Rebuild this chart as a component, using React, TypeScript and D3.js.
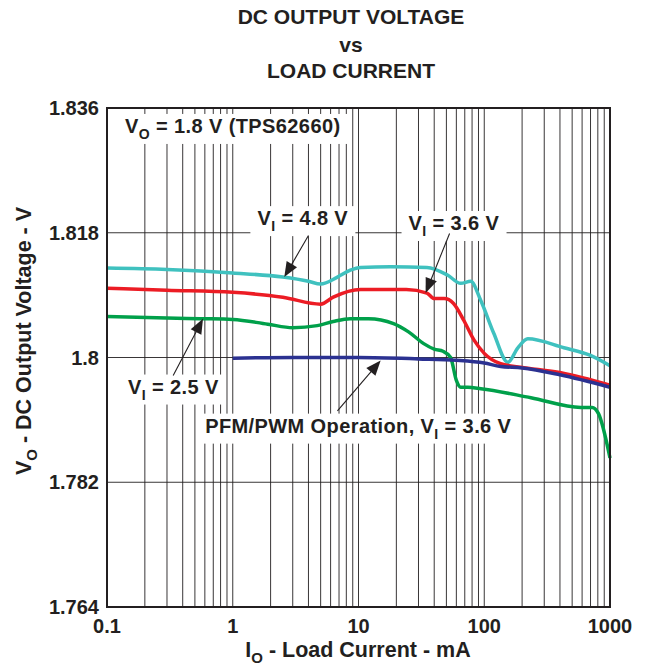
import React, { useLayoutEffect, useRef, useState } from 'react';
import * as d3 from 'd3';

// load current (mA) vs output voltage (V)
const curveVI48: [number, number][] = [
  [0.1, 1.8129], [0.3, 1.8127], [1, 1.8122], [2.5, 1.8116], [4, 1.811], [5, 1.8106],
  [6.8, 1.8116], [8.6, 1.8126], [10.4, 1.813], [18, 1.8131], [35, 1.813], [51, 1.8119],
  [65, 1.8107], [78, 1.811], [94, 1.8082], [119, 1.8035], [154, 1.7993], [185, 1.8014],
  [222, 1.8027], [430, 1.8014], [700, 1.8003], [1000, 1.7988],
];
const curveVI36: [number, number][] = [
  [0.1, 1.81], [0.3, 1.8097], [1, 1.8094], [2.5, 1.8087], [5, 1.8077], [6.3, 1.8087],
  [10.4, 1.8098], [24, 1.8098], [35, 1.8093], [40, 1.8085], [48, 1.8085], [57, 1.8078],
  [69, 1.8053], [83, 1.8025], [100, 1.8006], [135, 1.7991], [195, 1.7986], [407, 1.7978],
  [1000, 1.796],
];
const curveVI25: [number, number][] = [
  [0.1, 1.8059], [0.55, 1.8056], [1, 1.8055], [1.9, 1.8048], [3, 1.8043], [4.7, 1.8046],
  [6.3, 1.8052], [8.6, 1.8056], [12, 1.8056], [19, 1.8049], [25, 1.8037], [33, 1.802],
  [40, 1.8012], [47, 1.8009], [54, 1.8], [60, 1.7967], [65, 1.7957], [74, 1.7957],
  [94, 1.7955], [235, 1.7942], [587, 1.7928], [720, 1.7928], [810, 1.7919], [1000, 1.7855],
];
const curvePfm: [number, number][] = [
  [1, 1.7999], [3, 1.8], [10, 1.8], [30, 1.7998], [60, 1.7996], [100, 1.7992],
  [135, 1.7987], [200, 1.7985], [400, 1.7975], [1000, 1.7957],
];

const xTicks = [0.1, 1, 10, 100, 1000];
const yTicks = [1.764, 1.782, 1.8, 1.818, 1.836];
const yGrid = [1.782, 1.8, 1.818];

const series = [
  { name: 'VI = 4.8 V', data: curveVI48, color: '#3fc1bf' },
  { name: 'VI = 3.6 V', data: curveVI36, color: '#ec1c24' },
  { name: 'VI = 2.5 V', data: curveVI25, color: '#00a04a' },
  { name: 'PFM/PWM', data: curvePfm, color: '#2b3191' },
];

// text = [main, subscript, rest]; at = text start in data units; tip/tail = arrow ends
const notes = [
  { text: ['V', 'O', ' = 1.8 V (TPS62660)'], at: [0.139, 1.8324], tip: null, tail: null },
  { text: ['V', 'I', ' = 4.8 V'], at: [1.57, 1.8191], tip: [2.57, 1.8116], tail: [4.0, 1.8176] },
  { text: ['V', 'I', ' = 3.6 V'], at: [25, 1.8184], tip: [34.2, 1.8093], tail: [53, 1.8179] },
  { text: ['V', 'I', ' = 2.5 V'], at: [0.147, 1.7948], tip: [0.58, 1.8056], tail: [0.336, 1.7974] },
  { text: ['PFM/PWM Operation, V', 'I', ' = 3.6 V'], at: [0.604, 1.78916], tip: [15, 1.79957], tail: [6.8, 1.7923] },
];

const FONT = '"Liberation Sans", Arial, Helvetica, sans-serif';

const SubText = ({ parts, size, sub }: { parts: string[]; size: number; sub: number }) => (
  <>
    {parts[0]}
    <tspan fontSize={sub} dy={6}>{parts[1]}</tspan>
    <tspan fontSize={size} dy={-6}>{parts[2]}</tspan>
  </>
);

const Note = ({ x, y, parts }: { x: number; y: number; parts: string[] }) => {
  const ref = useRef<SVGTextElement>(null);
  const [box, setBox] = useState<DOMRect | null>(null);
  useLayoutEffect(() => {
    if (ref.current) setBox(ref.current.getBBox());
  }, []);
  return (
    <g>
      {box && (
        <rect x={box.x - 7} y={box.y - 1} width={box.width + 14} height={box.height + 3} fill="#fff" />
      )}
      <text ref={ref} x={x} y={y} fontSize={20} fontWeight="bold" letterSpacing={0.4} fill="#231f20">
        <SubText parts={parts} size={20} sub={14} />
      </text>
    </g>
  );
};

export default function App() {
  const width = 646;
  const height = 669;
  const margin = { top: 108, right: 36, bottom: 62, left: 107 };

  const x = d3.scaleLog().domain([0.1, 1000]).range([margin.left, width - margin.right]);
  const y = d3.scaleLinear().domain([1.764, 1.836]).range([height - margin.bottom, margin.top]);

  const xGrid: number[] = [];
  [0.1, 1, 10, 100].forEach((d) => {
    for (let k = 2; k <= 10; k++) xGrid.push(d * k);
  });

  const line = d3
    .line<[number, number]>()
    .x((d) => x(d[0]))
    .y((d) => y(d[1]))
    .curve(d3.curveMonotoneX);

  const arrow = (tip: number[], tail: number[]) => {
    const tx = x(tip[0]), ty = y(tip[1]);
    const sx = x(tail[0]), sy = y(tail[1]);
    const len = Math.hypot(tx - sx, ty - sy);
    const ux = (tx - sx) / len, uy = (ty - sy) / len;
    const L = 15, w = 6;
    const bx = tx - ux * L, by = ty - uy * L;
    const pts = [
      [tx, ty],
      [bx - uy * w, by + ux * w],
      [bx + uy * w, by - ux * w],
    ];
    return (
      <g>
        <line x1={sx} y1={sy} x2={bx + ux * 2} y2={by + uy * 2} stroke="#231f20" strokeWidth={1.1} />
        <polygon points={pts.map((p) => p.join(',')).join(' ')} fill="#231f20" />
      </g>
    );
  };

  const x0 = margin.left, x1 = width - margin.right;
  const y0 = margin.top, y1 = height - margin.bottom;

  return (
    <svg
      width={width}
      height={height}
      style={{ position: 'absolute', left: 0, top: 0, background: '#fff' }}
      fontFamily={FONT}
    >
      {/* title */}
      <g fontSize={21} fontWeight="bold" textAnchor="middle" fill="#231f20">
        <text x={351} y={24}>DC OUTPUT VOLTAGE</text>
        <text x={351} y={52}>vs</text>
        <text x={351} y={78}>LOAD CURRENT</text>
      </g>

      {/* grid */}
      <g stroke="#231f20" strokeWidth={0.9}>
        {xGrid.map((d) => (
          <line key={'gx' + d} x1={x(d)} x2={x(d)} y1={y0} y2={y1} />
        ))}
        {yGrid.map((d) => (
          <line key={'gy' + d} x1={x0} x2={x1} y1={y(d)} y2={y(d)} />
        ))}
      </g>

      {notes.map((n, i) => (
        <Note key={i} x={x(n.at[0])} y={y(n.at[1])} parts={n.text} />
      ))}

      {series.map((s) => (
        <path key={s.name} d={line(s.data) || ''} fill="none" stroke={s.color} strokeWidth={3.5} strokeLinejoin="round" />
      ))}

      {notes.map((n, i) => (n.tip && n.tail ? <g key={'a' + i}>{arrow(n.tip, n.tail)}</g> : null))}

      {/* frame */}
      <rect x={x0} y={y0} width={x1 - x0} height={y1 - y0} fill="none" stroke="#231f20" strokeWidth={2} />

      {/* axes labels */}
      <g fontSize={20} fontWeight="bold" fill="#231f20">
        {yTicks.map((d) => (
          <text key={'yt' + d} x={x0 - 8} y={y(d) + 7} textAnchor="end">
            {d3.format('')(d)}
          </text>
        ))}
        {xTicks.map((d) => (
          <text key={'xt' + d} x={x(d)} y={y1 + 26} textAnchor="middle">
            {d3.format('')(d)}
          </text>
        ))}
      </g>
      <g fontSize={21.5} fontWeight="bold" fill="#231f20">
        <text x={358} y={657} textAnchor="middle">
          <SubText parts={['I', 'O', ' - Load Current - mA']} size={21.5} sub={15} />
        </text>
        <text transform={`translate(31,341) rotate(-90)`} textAnchor="middle">
          <SubText parts={['V', 'O', ' - DC Output Voltage - V']} size={21.5} sub={15} />
        </text>
      </g>
    </svg>
  );
}
